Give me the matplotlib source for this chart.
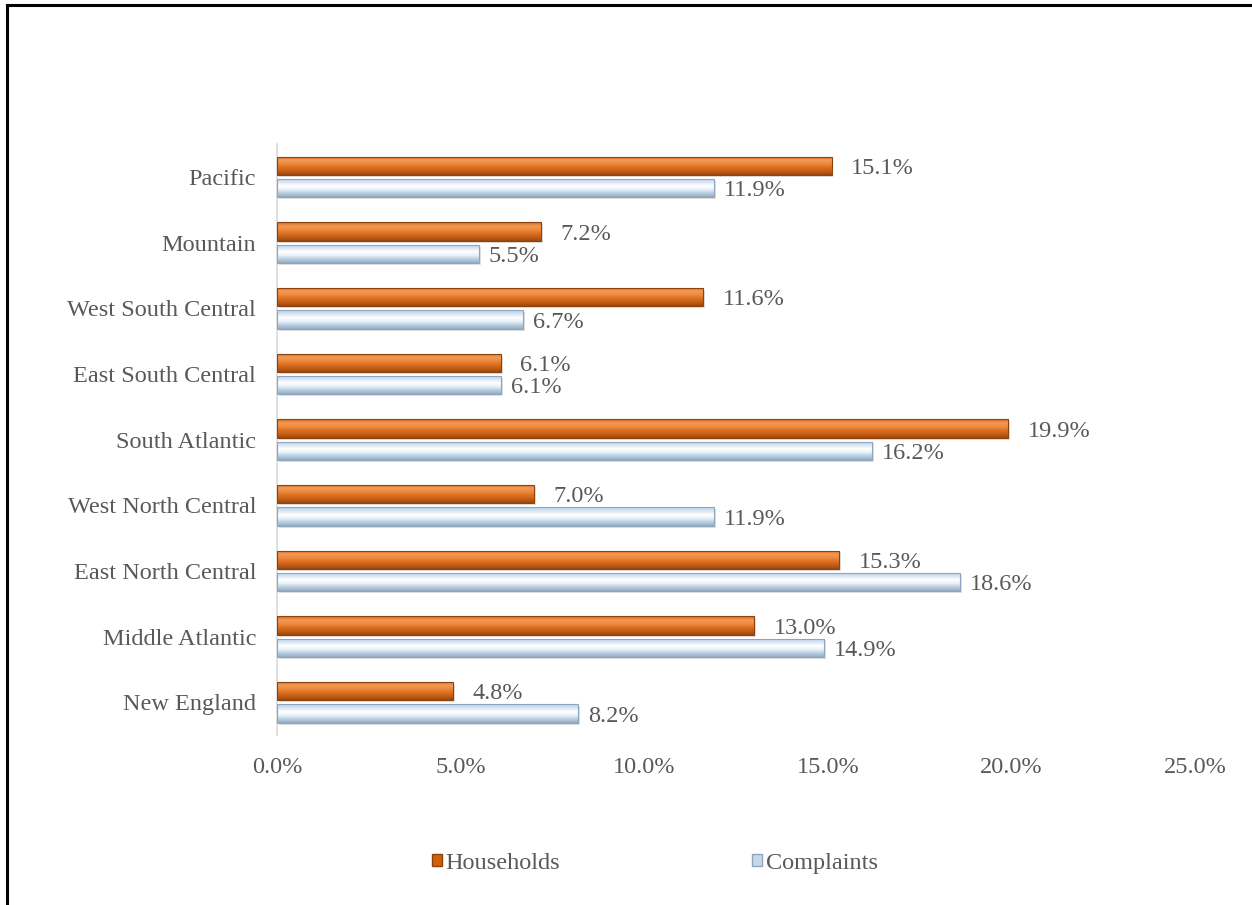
import numpy as np
import matplotlib
matplotlib.use("Agg")
import matplotlib.pyplot as plt
from matplotlib.colors import LinearSegmentedColormap
from matplotlib.patches import Patch

plt.rcParams["font.family"] = ["Liberation Serif", "DejaVu Serif"]

regions = ["New England", "Middle Atlantic", "East North Central", "West North Central",
           "South Atlantic", "East South Central", "West South Central", "Mountain", "Pacific"]
households = [4.8, 13.0, 15.3, 7.0, 19.9, 6.1, 11.6, 7.2, 15.1]
complaints = [8.2, 14.9, 18.6, 11.9, 16.2, 6.1, 6.7, 5.5, 11.9]
xticks = [0, 5, 10, 15, 20, 25]

FS = 17.5
TXT = "#595959"

# gradients bottom -> top
orange_cmap = LinearSegmentedColormap.from_list(
    "o", ["#9a470e", "#c45e16", "#dd7022", "#ee8a40", "#f39a55", "#d8681c"])
blue_cmap = LinearSegmentedColormap.from_list(
    "b", ["#94abc2", "#b8cde0", "#e8f1f9", "#ffffff", "#d7e5f2", "#bcd2e8"])

fig = plt.figure(figsize=(12.52, 9.05), dpi=100)
ax = fig.add_axes([0.2212, 0.1878, 0.7335, 0.653])

y = np.arange(len(regions))
h = 0.28
grad = np.linspace(0, 1, 64).reshape(-1, 1)


def draw_bars(vals, offset, cmap, edge, label_dx):
    # soft shadow under each bar
    ax.barh(y + offset - 0.03, vals, height=h, left=0.05, color="#000000", alpha=0.12,
            linewidth=0, zorder=1)
    bars = ax.barh(y + offset, vals, height=h, color="none", edgecolor=edge, linewidth=0.8, zorder=3)
    for bar, v in zip(bars, vals):
        y0 = bar.get_y()
        im = ax.imshow(grad, cmap=cmap, aspect="auto", extent=[0, v, y0, y0 + h],
                       origin="lower", zorder=2)
        im.set_clip_path(bar)
        ax.annotate(f"{v:.1f}%", (v, y0 + h / 2), xytext=(label_dx, -2), textcoords="offset points",
                    va="center", ha="left", fontsize=FS, color=TXT)
    return bars


draw_bars(households, 0.17, orange_cmap, "#8f420c", 14)
draw_bars(complaints, -0.17, blue_cmap, "#8ea6bd", 7)

ax.set_xlim(0, 25)
ax.set_ylim(-0.5, len(regions) - 0.5)
ax.set_xticks(xticks)
ax.set_xticklabels([f"{t:.1f}%" for t in xticks], fontsize=FS, color=TXT)
ax.set_yticks(y)
ax.set_yticklabels(regions, fontsize=FS, color=TXT)
ax.tick_params(length=0, pad=15, axis="y")
ax.tick_params(length=0, pad=16, axis="x")
for s in ["top", "right", "bottom"]:
    ax.spines[s].set_visible(False)
ax.spines["left"].set_color("#d9d9d9")
ax.spines["left"].set_linewidth(1.2)

handles = [Patch(facecolor="#d0600b", edgecolor="#8f420c"),
           Patch(facecolor="#c8d8e8", edgecolor="#8ea6bd")]
fig.legend(handles, ["Households", "Complaints"], loc="center", bbox_to_anchor=(0.523, 0.046),
           ncol=2, frameon=False, fontsize=FS, columnspacing=7.9, handlelength=0.42,
           handleheight=0.42, handletextpad=0.15, labelcolor=TXT)

# frame lines (top and left)
fig.add_artist(plt.Line2D([0.0056, 1.0], [0.9945, 0.9945], color="black", lw=2.2))
fig.add_artist(plt.Line2D([0.0056, 0.0056], [0.0, 0.9945], color="black", lw=2.2))

fig.savefig("out.png", dpi=100)
